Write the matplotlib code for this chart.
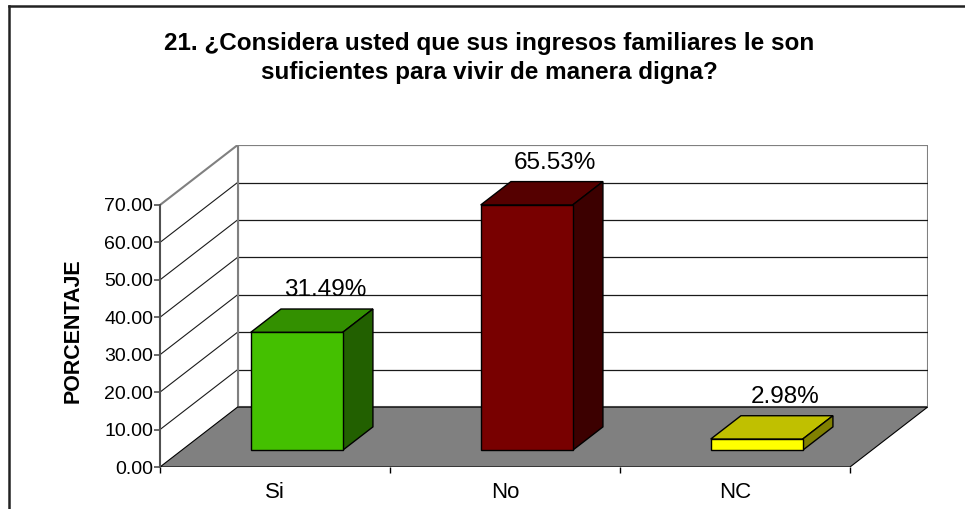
import matplotlib
matplotlib.use('Agg')
import matplotlib.pyplot as plt
from matplotlib.patches import Polygon
from matplotlib.lines import Line2D

# data
categorias = ['Si', 'No', 'NC']
porcentajes = [31.49, 65.53, 2.98]
etiquetas = ['31.49%', '65.53%', '2.98%']
valores_eje = [0, 10, 20, 30, 40, 50, 60, 70]
titulo = '21. ¿Considera usted que sus ingresos familiares le son\nsuficientes para vivir de manera digna?'

# estilo
color_frente = ['#44c000', '#780000', '#ffff00']
color_arriba = ['#339000', '#550000', '#c0c000']
color_lado = ['#226000', '#3c0000', '#808000']

plt.rcParams['font.family'] = ['Liberation Sans', 'DejaVu Sans']

YMAX = 70
DX = 0.337   # profundidad en unidades de categoria
DY = 16.0    # profundidad en unidades de porcentaje
D1, D2 = 0.28, 0.67   # posicion de la barra en profundidad
ANCHO = 0.4


def proj(x, y, d):
    return (x + d * DX, y + d * DY)


fig = plt.figure(figsize=(9.65, 5.09), dpi=100)
ax = fig.add_axes([160 / 965, 42 / 509, (3 + DX) * 230 / 965, (YMAX + DY) * 3.743 / 509])
ax.set_xlim(0, 3 + DX)
ax.set_ylim(0, YMAX + DY)
ax.patch.set_visible(False)

n = len(categorias)

# piso
ax.add_patch(Polygon([proj(0, 0, 0), proj(n, 0, 0), proj(n, 0, 1), proj(0, 0, 1)],
                     closed=True, fc='#808080', ec='black', lw=0.8, zorder=1))
# pared del fondo
ax.add_patch(Polygon([proj(0, 0, 1), proj(n, 0, 1), proj(n, YMAX, 1), proj(0, YMAX, 1)],
                     closed=True, fc='white', ec='#808080', lw=1.5, zorder=0.5))
# pared izquierda
ax.add_patch(Polygon([proj(0, 0, 0), proj(0, 0, 1), proj(0, YMAX, 1), proj(0, YMAX, 0)],
                     closed=True, fc='white', ec='none', zorder=0.5))

# lineas de division
for v in valores_eje[1:]:
    c = '#808080' if v == YMAX else '#1a1a1a'
    lw = 1.5 if v == YMAX else 0.9
    a, b = proj(0, v, 1), proj(n, v, 1)
    ax.add_line(Line2D([a[0], b[0]], [a[1], b[1]], color=c, lw=lw, zorder=0.8))
    a, b = proj(0, v, 0), proj(0, v, 1)
    ax.add_line(Line2D([a[0], b[0]], [a[1], b[1]], color=c, lw=lw if v == YMAX else 0.8, zorder=0.8))
a, b = proj(0, 0, 1), proj(0, YMAX, 1)
ax.add_line(Line2D([a[0], b[0]], [a[1], b[1]], color='#808080', lw=1.5, zorder=0.9))

# barras 3D
centros = [i + 0.5 for i in range(n)]
x_frente = [c + D1 * DX for c in centros]
ax.bar(x_frente, porcentajes, width=ANCHO, bottom=D1 * DY, color=color_frente,
       edgecolor='black', linewidth=1, zorder=3)
for i, v in enumerate(porcentajes):
    xl, xr = centros[i] - ANCHO / 2, centros[i] + ANCHO / 2
    arriba = [proj(xl, v, D1), proj(xr, v, D1), proj(xr, v, D2), proj(xl, v, D2)]
    lado = [proj(xr, 0, D1), proj(xr, v, D1), proj(xr, v, D2), proj(xr, 0, D2)]
    ax.add_patch(Polygon(arriba, closed=True, fc=color_arriba[i], ec='black', lw=1, zorder=2.9))
    ax.add_patch(Polygon(lado, closed=True, fc=color_lado[i], ec='black', lw=1, zorder=2.9))
    ax.annotate(etiquetas[i], xy=proj(centros[i], v, 0.65), xytext=(0, 10),
                textcoords='offset points', ha='center', va='baseline', fontsize=17.5, zorder=4)

# ejes
for s in ['top', 'right', 'bottom']:
    ax.spines[s].set_visible(False)
ax.spines['left'].set_bounds(0, YMAX)
ax.spines['left'].set_color('#505050')
ax.spines['left'].set_linewidth(1.5)
ax.set_yticks(valores_eje)
ax.set_yticklabels(['%.2f' % v for v in valores_eje], fontsize=14)
ax.tick_params(axis='y', direction='out', length=4, width=1.2, color='#505050', pad=1)

ax.set_xticks(range(n + 1))
ax.set_xticklabels([])
ax.set_xticks(centros, minor=True)
ax.set_xticklabels(categorias, minor=True, fontsize=16)
ax.tick_params(axis='x', which='major', direction='out', length=4, width=1, color='black')
ax.tick_params(axis='x', which='minor', length=0, pad=11)

ax.set_ylabel('PORCENTAJE', fontsize=15.5, fontweight='bold')
ax.yaxis.set_label_coords(-0.1, 0.425)

fig.text(489 / 965, 1 - 32 / 509, titulo, ha='center', va='top', fontsize=17.5,
         fontweight='bold', linespacing=1.35)

# borde del grafico
fig.add_artist(Line2D([8.5 / 965, 8.5 / 965], [0, 1 - 5.5 / 509], color='#222222', lw=1.8))
fig.add_artist(Line2D([8.5 / 965, 1], [1 - 5.5 / 509, 1 - 5.5 / 509], color='#222222', lw=1.8))

fig.savefig('out.png', dpi=100)
